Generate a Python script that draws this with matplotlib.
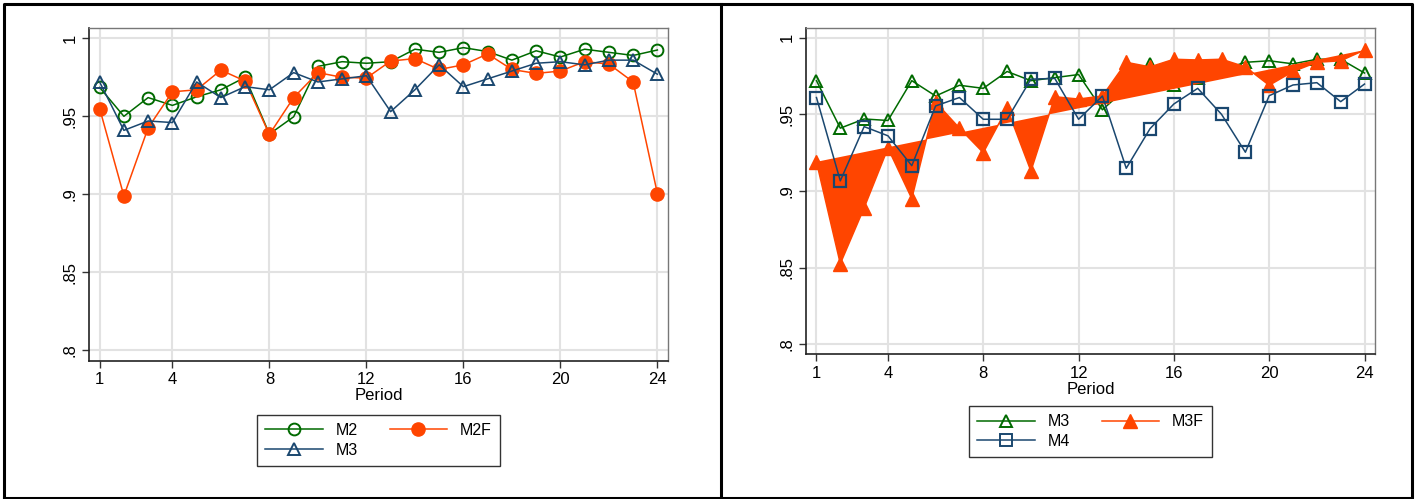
import matplotlib.pyplot as plt
from matplotlib.lines import Line2D

plt.rcParams["font.family"] = ["Liberation Sans", "DejaVu Sans"]

periods = list(range(1, 25))
m2 = [0.9685, 0.950, 0.962, 0.957, 0.9625, 0.967, 0.975, 0.9386, 0.9497, 0.982, 0.985, 0.984,
      0.985, 0.993, 0.991, 0.994, 0.9915, 0.986, 0.992, 0.988, 0.993, 0.991, 0.989, 0.9925]
m2f = [0.955, 0.899, 0.9426, 0.9657, 0.967, 0.9796, 0.9726, 0.9384, 0.962, 0.978, 0.975, 0.9745,
       0.9854, 0.987, 0.980, 0.983, 0.990, 0.980, 0.9775, 0.979, 0.985, 0.9835, 0.972, 0.9005]
m3 = [0.972, 0.941, 0.947, 0.946, 0.972, 0.962, 0.969, 0.967, 0.978, 0.972, 0.974, 0.976,
      0.953, 0.967, 0.983, 0.969, 0.974, 0.979, 0.984, 0.985, 0.983, 0.986, 0.986, 0.977]
m3f = [0.919, 0.8525, 0.889, 0.928, 0.895, 0.958, 0.941, 0.925, 0.954, 0.913, 0.9615, 0.960,
       0.962, 0.984, 0.981, 0.986, 0.9855, 0.986, 0.981, 0.969, 0.978, 0.984, 0.985, 0.992]
m4 = [0.961, 0.9066, 0.942, 0.936, 0.9165, 0.9555, 0.961, 0.9468, 0.9468, 0.973, 0.9735, 0.9468,
      0.962, 0.9148, 0.9407, 0.9568, 0.967, 0.95, 0.9253, 0.9622, 0.9692, 0.9707, 0.9583, 0.9698]

xticks = [1, 4, 8, 12, 16, 20, 24]
yticks = [0.8, 0.85, 0.9, 0.95, 1.0]
ylabels = [".8", ".85", ".9", ".95", "1"]

GREEN = "#006a00"
ORANGE = "#ff4500"
BLUE = "#1a476f"

fig = plt.figure(figsize=(14.19, 4.99), dpi=100)
ax1 = fig.add_axes([0.0627, 0.2766, 0.4081, 0.6673])
ax2 = fig.add_axes([0.568, 0.2896, 0.401, 0.6549])


def style(ax):
    ax.set_xlim(0.56, 24.44)
    ax.set_ylim(0.7932, 1.0066)
    ax.set_xticks(xticks)
    ax.set_yticks(yticks)
    ax.set_yticklabels(ylabels, rotation=90, va="center")
    ax.tick_params(labelsize=12, length=5, width=1, color="#333333", pad=3)
    ax.grid(True, color="#e2e2e2", lw=1.5)
    ax.set_axisbelow(True)
    for s in ["left", "bottom"]:
        ax.spines[s].set_color("#222222")
        ax.spines[s].set_linewidth(1.2)
    for s in ["top", "right"]:
        ax.spines[s].set_color("#777777")
        ax.spines[s].set_linewidth(1.0)
    ax.set_xlabel("Period", fontsize=12, labelpad=1)


def legend(ax, handles, labels, y):
    ax.legend(handles, labels, loc="upper center", bbox_to_anchor=(0.5, y), ncol=2, fontsize=11.5,
              frameon=True, fancybox=False, edgecolor="black", handlelength=3.6,
              columnspacing=2.0, borderpad=0.5, labelspacing=0.3, borderaxespad=0)


# left panel
l_m2, = ax1.plot(periods, m2, color=GREEN, lw=1.1, marker="o", ms=8.5, mfc="none", mec=GREEN, mew=1.4)
l_m2f, = ax1.plot(periods, m2f, color=ORANGE, lw=1.1, marker="o", ms=9.5, mfc=ORANGE, mec=ORANGE)
l_m3, = ax1.plot(periods, m3, color=BLUE, lw=1.1, marker="^", ms=9, mfc="none", mec=BLUE, mew=1.4)
style(ax1)
legend(ax1, [l_m2, l_m3, l_m2f], ["M2", "M3", "M2F"], -0.162)

# right panel
ax2.plot(periods, m3, color=GREEN, lw=1.1, marker="^", ms=9, mfc="none", mec=GREEN, mew=1.4, zorder=2)
ax2.fill(periods, m3f, color=ORANGE, lw=0, zorder=3)
ax2.plot(periods, m3f, color=ORANGE, lw=1.1, marker="^", ms=10, mfc=ORANGE, mec=ORANGE, zorder=3)
ax2.plot(periods, m4, color=BLUE, lw=1.1, marker="s", ms=8.5, mfc="none", mec=BLUE, mew=1.6, zorder=4)
style(ax2)
handles = [
    Line2D([], [], color=GREEN, lw=1.1, marker="^", ms=9, mfc="none", mec=GREEN, mew=1.4),
    Line2D([], [], color=BLUE, lw=1.1, marker="s", ms=8.5, mfc="none", mec=BLUE, mew=1.4),
    Line2D([], [], color=ORANGE, lw=1.1, marker="^", ms=10, mfc=ORANGE, mec=ORANGE),
]
legend(ax2, handles, ["M3", "M4", "M3F"], -0.158)

# outer frames
frame = dict(color="black", lw=2.2, transform=fig.transFigure, clip_on=False)
x0, x1, xm = 4 / 1419, 1412 / 1419, 721 / 1419
y0, y1 = 1 - 498 / 499, 1 - 3.5 / 499
fig.add_artist(Line2D([x0, x1, x1, x0, x0], [y0, y0, y1, y1, y0], **frame))
fig.add_artist(Line2D([xm, xm], [y0, y1], **frame))

fig.savefig("out.png", dpi=100)
